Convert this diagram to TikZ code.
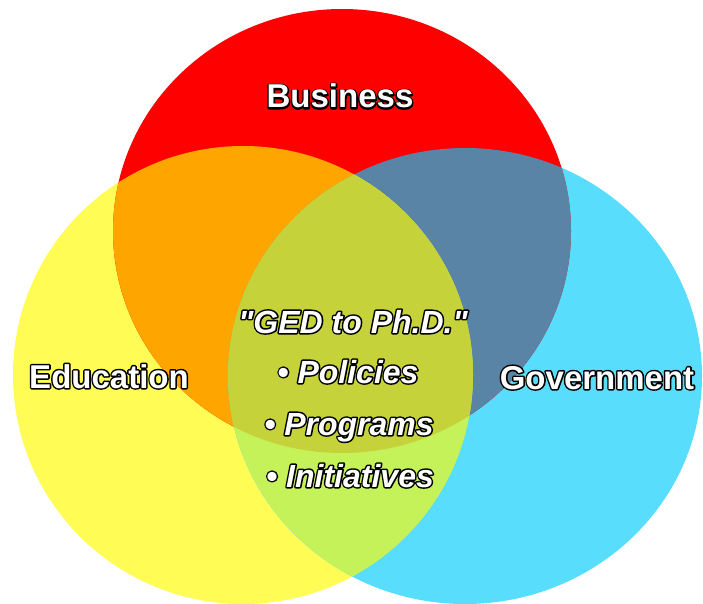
\documentclass[tikz,border=0pt]{standalone}
\usepackage{fontspec}
\setmainfont{Liberation Sans}[Ligatures=TeXOff]
\definecolor{cred}{RGB}{254,0,0}
\definecolor{cyel}{RGB}{255,252,85}
\definecolor{ccya}{RGB}{89,221,253}
\definecolor{corg}{RGB}{255,165,0}
\definecolor{cslt}{RGB}{89,132,165}
\definecolor{clgr}{RGB}{197,241,89}
\definecolor{coli}{RGB}{197,210,58}
% stroke-only copy (outline lying under the white text)
\newcommand\stext[1]{\special{pdf:literal direct 0 0 0 RG 3.0 w 1 j 1 Tr}#1\special{pdf:literal direct 0 Tr}}
\tikzset{
  lbl/.style={font=\fontsize{33}{40}\selectfont\bfseries, inner sep=0pt, anchor=base, text=white},
  ctr/.style={font=\fontsize{32}{40}\selectfont\bfseries\itshape, inner sep=0pt, anchor=base, text=white},
  redc/.style={x radius=229, y radius=222},
  yelc/.style={x radius=230, y radius=229},
  cyac/.style={x radius=237, y radius=228}
}
\newcommand\olabel[4]{%
  \node[#1,text=black] at (#3) {\stext{#4}};
  \node[#1] (#2) at (#3) {#4};
}
\begin{document}
\begin{tikzpicture}[x=1pt,y=-1pt]
\useasboundingbox (0,0) rectangle (703,604);
% base circles
\fill[cyel] (243,375) ellipse [yelc];
\fill[ccya] (465,376) ellipse [cyac];
\fill[cred] (342,231) ellipse [redc];
% pairwise overlaps
\begin{scope}
  \clip (342,231) ellipse [redc];
  \fill[corg] (243,375) ellipse [yelc];
  \fill[cslt] (465,376) ellipse [cyac];
\end{scope}
\begin{scope}
  \clip (243,375) ellipse [yelc];
  \fill[clgr] (465,376) ellipse [cyac];
\end{scope}
% triple overlap
\begin{scope}
  \clip (342,231) ellipse [redc];
  \clip (243,375) ellipse [yelc];
  \fill[coli] (465,376) ellipse [cyac];
\end{scope}
% labels
\olabel{lbl}{business}{340,108}{Business}
\olabel{lbl}{education}{109,388}{Education}
\olabel{lbl}{government}{597,389}{Government}
\olabel{ctr}{l1}{353,333}{"GED to Ph.D."}
\olabel{ctr}{l2}{348,383}{• Policies}
\olabel{ctr}{l3}{349,435}{• Programs}
\olabel{ctr}{l4}{350,487}{• Initiatives}
\end{tikzpicture}
\end{document}
